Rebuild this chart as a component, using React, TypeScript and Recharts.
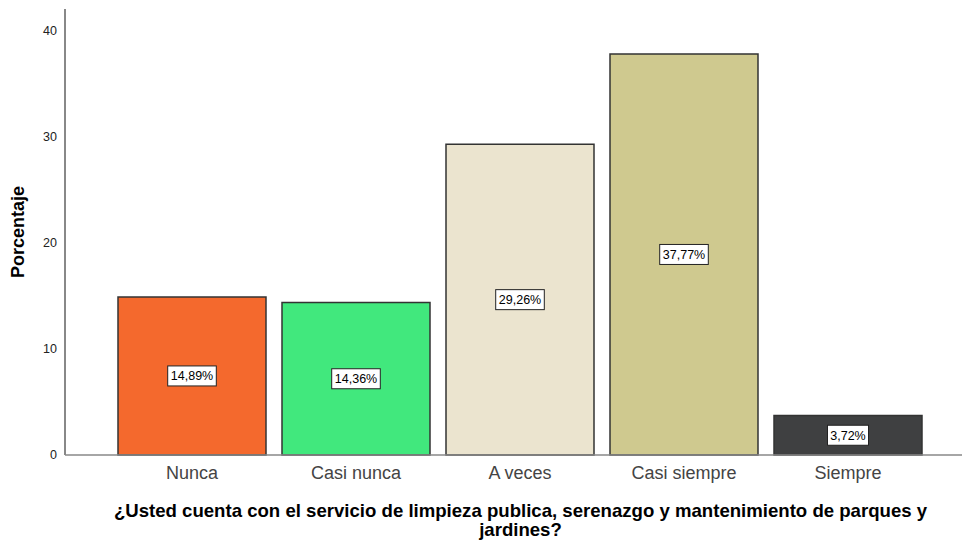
import { BarChart, Bar, XAxis, YAxis, Cell, LabelList } from 'recharts';

const CATEGORIES = ['Nunca', 'Casi nunca', 'A veces', 'Casi siempre', 'Siempre'];
const PERCENTS = [14.89, 14.36, 29.26, 37.77, 3.72];
const COLORS = ['#f4692d', '#41e87d', '#ebe4cf', '#cfc98f', '#3f4041'];
const Y_TICKS = [0, 10, 20, 30, 40];

const data = CATEGORIES.map((name, i) => ({ name, value: PERCENTS[i] }));

const FONT = '"Liberation Sans", Arial, sans-serif';

function ValueBox(props: any) {
    const { x, y, width, height, value } = props;
    const text = `${value.toFixed(2).replace('.', ',')}%`;
    const cx = x + width / 2;
    const cy = y + height / 2;
    const w = text.length * 7.6 + 3;
    const h = 20;
    return (
        <g>
            <rect x={cx - w / 2} y={cy - h / 2} width={w} height={h} fill="#fff" stroke="#222" strokeWidth={1} />
            <text x={cx} y={cy + 4.5} textAnchor="middle" fontSize={12.5} fontFamily={FONT} fill="#000">{text}</text>
        </g>
    );
}

function XTitle(props: any) {
    const { viewBox } = props;
    const cx = viewBox.x + viewBox.width / 2 + 7;
    const y = viewBox.y + viewBox.height;
    return (
        <text textAnchor="middle" fontSize={18.6} fontWeight="bold" fontFamily={FONT} fill="#000">
            <tspan x={cx} y={y + 32}>¿Usted cuenta con el servicio de limpieza publica, serenazgo y mantenimiento de parques y</tspan>
            <tspan x={cx} y={y + 51}>jardines?</tspan>
        </text>
    );
}

function YTitle(props: any) {
    const { viewBox } = props;
    const cy = viewBox.y + viewBox.height / 2;
    const x = 24;
    return (
        <text x={x} y={cy} transform={`rotate(-90 ${x} ${cy})`} textAnchor="middle" fontSize={18} fontWeight="bold" fontFamily={FONT} fill="#000">
            Porcentaje
        </text>
    );
}

export default function App() {
    return (
        <div style={{ position: 'absolute', left: 0, top: 0, background: '#fff' }}>
            <BarChart width={964} height={540} data={data} margin={{ top: 9, right: 2, left: 0, bottom: 55 }}>
                <XAxis
                    dataKey="name"
                    padding={{ left: 45, right: 32 }}
                    tickLine={false}
                    tickMargin={5}
                    axisLine={{ stroke: '#888', strokeWidth: 1.5 }}
                    tick={{ fontSize: 18, fill: '#444', fontFamily: FONT }}
                    interval={0}
                    height={30}
                    label={<XTitle />}
                />
                <YAxis
                    width={65}
                    domain={[0, 42]}
                    ticks={Y_TICKS}
                    tickLine={false}
                    axisLine={{ stroke: '#888', strokeWidth: 2 }}
                    tick={{ fontSize: 12.5, fill: '#222', fontFamily: FONT }}
                    label={<YTitle />}
                />
                <Bar dataKey="value" barSize={148} stroke="#333" strokeWidth={1.5} isAnimationActive={false}>
                    {data.map((_, i) => (
                        <Cell key={i} fill={COLORS[i]} />
                    ))}
                    <LabelList dataKey="value" content={<ValueBox />} />
                </Bar>
            </BarChart>
        </div>
    );
}
